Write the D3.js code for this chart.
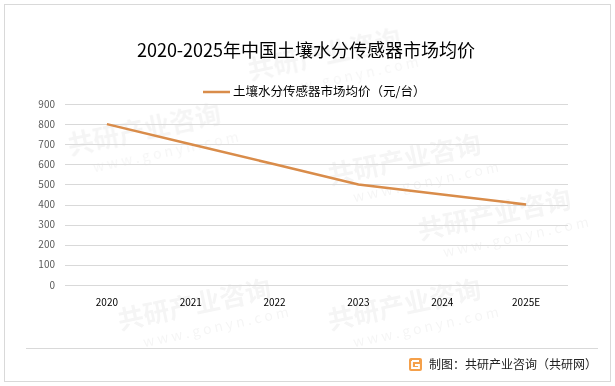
<!DOCTYPE html>
<html>
<head>
<meta charset="utf-8">
<script src="https://cdn.jsdelivr.net/npm/d3@7"></script>
<style>
  body { margin: 0; background: #fff; }
  svg { display: block; font-family: "Noto Sans CJK SC", "Noto Sans", sans-serif; }
</style>
</head>
<body>
<div id="chart"></div>
<script>
const years = ['2020', '2021', '2022', '2023', '2024', '2025E']
const prices = [800, 700, 600, 500, 450, 400]
const yTicks = [0, 100, 200, 300, 400, 500, 600, 700, 800, 900]
const title = '2020-2025年中国土壤水分传感器市场均价'
const seriesName = '土壤水分传感器市场均价（元/台）'
const source = '制图：共研产业咨询（共研网）'

const width = 615, height = 386
const margin = { left: 65, right: 47, top: 104, bottom: 101 }

const svg = d3.select('#chart').append('svg')
  .attr('width', width)
  .attr('height', height)

// faint watermarks, kept inside the frame
const wmSpots = [[70, 155], [330, 185], [120, 330], [330, 330], [250, 80], [420, 240]]
const wm = svg.append('g').attr('fill', '#000').attr('opacity', 0.04)
wmSpots.forEach(([px, py]) => {
  const g = wm.append('g').attr('transform', `translate(${px},${py}) rotate(-12)`)
  g.append('text').text('共研产业咨询')
    .attr('font-size', 26).attr('font-weight', 'bold')
  g.append('text').text('w w w . g o n y n . c o m')
    .attr('x', 20).attr('y', 22).attr('font-size', 14)
})

// frame
svg.append('rect')
  .attr('x', 4.5).attr('y', 4.5)
  .attr('width', 606).attr('height', 377)
  .attr('fill', 'none').attr('stroke', '#d9d9d9')

svg.append('line')
  .attr('x1', 26).attr('x2', 598)
  .attr('y1', 348.5).attr('y2', 348.5)
  .attr('stroke', '#d9d9d9')

const x = d3.scaleBand()
  .domain(years)
  .range([margin.left, width - margin.right])

const y = d3.scaleLinear()
  .domain([0, 900])
  .range([height - margin.bottom, margin.top])

// gridlines
svg.append('g')
  .selectAll('line')
  .data(yTicks)
  .join('line')
  .attr('x1', margin.left).attr('x2', width - margin.right)
  .attr('y1', d => Math.round(y(d)) + 0.5).attr('y2', d => Math.round(y(d)) + 0.5)
  .attr('stroke', '#d9d9d9')

// y axis labels
svg.append('g')
  .selectAll('text')
  .data(yTicks)
  .join('text')
  .attr('x', 55)
  .attr('y', d => y(d))
  .attr('dy', '0.35em')
  .attr('text-anchor', 'end')
  .attr('font-size', 10)
  .attr('fill', '#595959')
  .text(d => d)

// x axis labels
svg.append('g')
  .selectAll('text')
  .data(years)
  .join('text')
  .attr('x', d => x(d) + x.bandwidth() / 2)
  .attr('y', 306)
  .attr('text-anchor', 'middle')
  .attr('font-size', 10)
  .attr('fill', '#000')
  .text(d => d)

// line
const line = d3.line()
  .x((d, i) => x(years[i]) + x.bandwidth() / 2)
  .y(d => y(d))

svg.append('path')
  .datum(prices)
  .attr('d', line)
  .attr('fill', 'none')
  .attr('stroke', '#d98c4a')
  .attr('stroke-width', 2.5)

// title
svg.append('text')
  .attr('x', 306).attr('y', 57)
  .attr('text-anchor', 'middle')
  .attr('font-size', 18)
  .attr('fill', '#000')
  .text(title)

// legend
svg.append('line')
  .attr('x1', 203).attr('x2', 230)
  .attr('y1', 92).attr('y2', 92)
  .attr('stroke', '#d98c4a').attr('stroke-width', 2.5)

svg.append('text')
  .attr('x', 233).attr('y', 92)
  .attr('dy', '0.35em')
  .attr('font-size', 12.5)
  .attr('fill', '#000')
  .text(seriesName)

// source logo + text
const logo = svg.append('g').attr('transform', 'translate(409,358)')
logo.append('rect').attr('width', 13).attr('height', 13).attr('rx', 2).attr('fill', '#f5a04a')
logo.append('path').attr('d', 'M3,3 H10 M3,3 V10 H10 V7 H6')
  .attr('fill', 'none').attr('stroke', '#fff').attr('stroke-width', 1.8)

svg.append('text')
  .attr('x', 429).attr('y', 365)
  .attr('dy', '0.35em')
  .attr('font-size', 12)
  .attr('fill', '#222')
  .text(source)
</script>
</body>
</html>
